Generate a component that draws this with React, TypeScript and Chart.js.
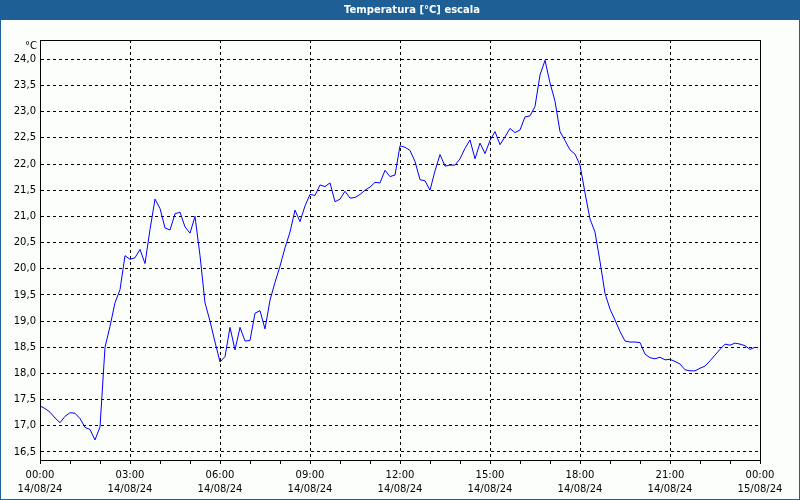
import React, { useEffect, useRef } from 'react';
import { Chart, registerables } from 'chart.js';

Chart.register(...registerables);

const TITLE = 'Temperatura [°C] escala';
const UNIT = '°C';
const STEP_MINUTES = 10;

// Temperature every 10 minutes from 00:00 (14/08/24)
const TEMPS = [
  17.38, 17.33, 17.26, 17.15, 17.06, 17.18, 17.25, 17.24, 17.14, 16.97,
  16.93, 16.73, 16.98, 18.5, 18.9, 19.35, 19.6, 20.25, 20.18, 20.21,
  20.37, 20.1, 20.75, 21.33, 21.15, 20.78, 20.74, 21.05, 21.08, 20.8,
  20.68, 21.0, 20.25, 19.35, 19.0, 18.6, 18.22, 18.32, 18.88, 18.45,
  18.88, 18.62, 18.63, 19.15, 19.2, 18.85, 19.4, 19.74, 20.05, 20.4,
  20.7, 21.12, 20.9, 21.2, 21.42, 21.4, 21.6, 21.57, 21.64, 21.28,
  21.33, 21.48, 21.35, 21.36, 21.42, 21.5, 21.56, 21.65, 21.64, 21.88,
  21.76, 21.79, 22.35, 22.32, 22.26, 22.05, 21.7, 21.68, 21.5, 21.87,
  22.18, 21.96, 21.98, 21.98, 22.1, 22.3, 22.46, 22.1, 22.4, 22.2,
  22.45, 22.62, 22.37, 22.52, 22.68, 22.6, 22.65, 22.9, 22.92, 23.1,
  23.7, 23.98, 23.55, 23.2, 22.62, 22.45, 22.27, 22.19, 21.98, 21.45,
  20.95, 20.7, 20.14, 19.53, 19.23, 19.02, 18.8, 18.62, 18.6, 18.6,
  18.59, 18.37, 18.3, 18.28, 18.31, 18.26, 18.27, 18.23, 18.18, 18.07,
  18.05, 18.05, 18.1, 18.14, 18.24, 18.35, 18.46, 18.56, 18.54, 18.58,
  18.56, 18.53, 18.46, 18.5,
];

const Y_TICKS = [16.5, 17.0, 17.5, 18.0, 18.5, 19.0, 19.5, 20.0, 20.5, 21.0, 21.5, 22.0, 22.5, 23.0, 23.5, 24.0];
const Y_MIN = 16.347;
const Y_MAX = 24.369;

const X_MAX_MINUTES = 1440;
const X_MINOR_STEP = 60;
const X_MAJOR_STEP = 180;
const X_TIME_LABELS = ['00:00', '03:00', '06:00', '09:00', '12:00', '15:00', '18:00', '21:00', '00:00'];
const X_DATE_LABELS = ['14/08/24', '14/08/24', '14/08/24', '14/08/24', '14/08/24', '14/08/24', '14/08/24', '14/08/24', '15/08/24'];

const BAR_COLOR = '#1e6096';
const BG_COLOR = '#fcfefc';
const LINE_COLOR = '#0000ff';
const FONT_FAMILY = '"DejaVu Sans", Verdana, sans-serif';

export default function App() {
  const canvasRef = useRef<HTMLCanvasElement | null>(null);

  useEffect(() => {
    document.body.style.margin = '0';
    const canvas = canvasRef.current;
    if (!canvas) return;

    const framePlugin = {
      id: 'framePlugin',
      beforeDraw(chart: any) {
        const { ctx, width, height } = chart;
        ctx.save();
        ctx.fillStyle = BG_COLOR;
        ctx.fillRect(0, 0, width, height);
        ctx.fillStyle = BAR_COLOR;
        ctx.fillRect(0, 0, width, 20);
        ctx.strokeStyle = BAR_COLOR;
        ctx.lineWidth = 1;
        ctx.strokeRect(0.5, 0.5, width - 1, height - 1);
        ctx.fillStyle = '#ffffff';
        ctx.font = 'bold 10px ' + FONT_FAMILY;
        ctx.textAlign = 'center';
        ctx.textBaseline = 'middle';
        ctx.fillText(TITLE, 412, 10);
        ctx.restore();
      },
      afterDraw(chart: any) {
        const { ctx, chartArea } = chart;
        const { left, top, right, bottom } = chartArea;
        ctx.save();
        ctx.strokeStyle = '#000000';
        ctx.lineWidth = 1;
        ctx.strokeRect(left + 0.5, top + 0.5, right - left, bottom - top);
        ctx.fillStyle = '#000000';
        ctx.font = '10px ' + FONT_FAMILY;
        ctx.textAlign = 'right';
        ctx.textBaseline = 'middle';
        ctx.fillText(UNIT, left - 3, top + 6);
        ctx.restore();
      },
    };

    const chart = new Chart(canvas, {
      type: 'line',
      data: {
        datasets: [
          {
            data: TEMPS.map((t, i) => ({ x: i * STEP_MINUTES, y: t })),
            borderColor: LINE_COLOR,
            borderWidth: 1,
            pointRadius: 0,
            fill: false,
            tension: 0,
          },
        ],
      },
      options: {
        responsive: false,
        animation: false,
        devicePixelRatio: 1,
        layout: { padding: { top: 40, right: 40, left: 0, bottom: 0 } },
        plugins: {
          legend: { display: false },
          tooltip: { enabled: false },
          title: { display: false },
        },
        scales: {
          x: {
            type: 'linear',
            min: 0,
            max: X_MAX_MINUTES,
            afterBuildTicks: (scale: any) => {
              const ticks = [];
              for (let m = 0; m <= X_MAX_MINUTES; m += X_MINOR_STEP) ticks.push({ value: m });
              scale.ticks = ticks;
            },
            afterFit: (scale: any) => {
              scale.height = 40;
            },
            grid: {
              color: (ctx: any) =>
                ctx.tick && ctx.tick.value % X_MAJOR_STEP === 0 ? '#000000' : 'rgba(0,0,0,0)',
              tickColor: '#000000',
              tickLength: 4,
              lineWidth: 1,
              drawTicks: true,
            },
            border: { display: true, color: '#000000', dash: [3, 3] },
            ticks: {
              autoSkip: false,
              maxRotation: 0,
              minRotation: 0,
              padding: 4,
              color: '#000000',
              font: { family: FONT_FAMILY, size: 10, lineHeight: '14px' },
              callback: (value: any) => {
                const v = Number(value);
                if (v % X_MAJOR_STEP !== 0) return '';
                const j = v / X_MAJOR_STEP;
                return [X_TIME_LABELS[j], X_DATE_LABELS[j]];
              },
            },
          },
          y: {
            type: 'linear',
            min: Y_MIN,
            max: Y_MAX,
            afterBuildTicks: (scale: any) => {
              scale.ticks = Y_TICKS.map((v) => ({ value: v }));
            },
            afterFit: (scale: any) => {
              scale.width = 40;
            },
            grid: {
              color: '#000000',
              lineWidth: 1,
              drawTicks: false,
            },
            border: { display: true, color: '#000000', dash: [3, 3] },
            ticks: {
              padding: 4,
              color: '#000000',
              font: { family: FONT_FAMILY, size: 10 },
              callback: (value: any) => Number(value).toFixed(1).replace('.', ','),
            },
          },
        },
      },
      plugins: [framePlugin],
    } as any);

    return () => {
      chart.destroy();
    };
  }, []);

  return (
    <canvas
      ref={canvasRef}
      width={800}
      height={500}
      style={{ display: 'block', width: 800, height: 500 }}
    />
  );
}
